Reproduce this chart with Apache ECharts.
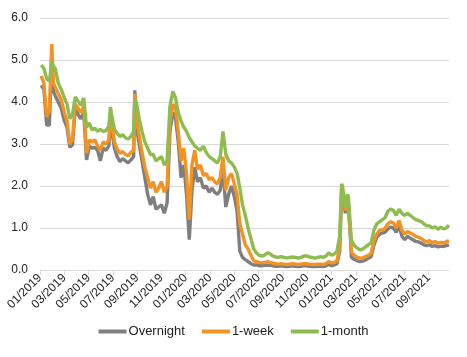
<!DOCTYPE html>
<html>
<head>
<meta charset="utf-8">
<script src="https://cdn.jsdelivr.net/npm/echarts@6/dist/echarts.min.js"></script>
<style>
html,body{margin:0;padding:0;background:#fff;}
#chart{width:467px;height:357px;}
</style>
</head>
<body>
<div id="chart"></div>
<script>
const dates = [
"2019-01-04","2019-01-11","2019-01-18","2019-01-25","2019-01-31","2019-02-04","2019-02-08","2019-02-15","2019-02-22","2019-03-01",
"2019-03-08","2019-03-15","2019-03-22","2019-03-29","2019-04-05","2019-04-12","2019-04-19","2019-04-26","2019-05-03","2019-05-10",
"2019-05-17","2019-05-24","2019-05-31","2019-06-07","2019-06-14","2019-06-21","2019-06-25","2019-06-28","2019-07-05","2019-07-12",
"2019-07-19","2019-07-26","2019-08-02","2019-08-09","2019-08-16","2019-08-23","2019-08-26","2019-08-30","2019-09-06","2019-09-13",
"2019-09-20","2019-09-27","2019-10-04","2019-10-11","2019-10-18","2019-10-25","2019-11-01","2019-11-08","2019-11-15","2019-11-22",
"2019-11-29","2019-12-06","2019-12-13","2019-12-20","2019-12-27","2020-01-03","2020-01-10","2020-01-17","2020-01-24","2020-01-31",
"2020-02-07","2020-02-14","2020-02-21","2020-02-28","2020-03-06","2020-03-13","2020-03-20","2020-03-27","2020-04-03","2020-04-10",
"2020-04-17","2020-04-24","2020-05-01","2020-05-08","2020-05-15","2020-05-22","2020-05-29","2020-06-05","2020-06-12","2020-06-19",
"2020-06-26","2020-07-03","2020-07-10","2020-07-17","2020-07-24","2020-07-31","2020-08-07","2020-08-14","2020-08-21","2020-08-28",
"2020-09-04","2020-09-11","2020-09-18","2020-09-25","2020-10-02","2020-10-09","2020-10-16","2020-10-23","2020-10-30","2020-11-06",
"2020-11-13","2020-11-20","2020-11-27","2020-12-04","2020-12-11","2020-12-18","2020-12-25","2021-01-01","2021-01-08","2021-01-15",
"2021-01-22","2021-01-27","2021-01-29","2021-02-05","2021-02-10","2021-02-12","2021-02-17","2021-02-19","2021-02-26","2021-03-05",
"2021-03-12","2021-03-19","2021-03-26","2021-04-02","2021-04-09","2021-04-16","2021-04-23","2021-04-30","2021-05-07","2021-05-14",
"2021-05-21","2021-05-28","2021-06-04","2021-06-11","2021-06-18","2021-06-25","2021-07-02","2021-07-09","2021-07-16","2021-07-23",
"2021-07-30","2021-08-06","2021-08-13","2021-08-20","2021-08-27","2021-09-03","2021-09-10","2021-09-17","2021-09-24","2021-10-01",
"2021-10-08","2021-10-15","2021-10-22"
];
const overnight = [
4.40,4.30,3.45,3.45,5.10,4.25,4.15,4.00,3.85,3.55,
3.40,2.92,2.98,3.85,3.70,3.60,3.75,2.62,2.95,2.90,
2.92,2.85,2.60,2.90,2.85,2.95,3.55,3.35,2.90,2.70,
2.58,2.65,2.60,2.55,2.62,2.70,4.28,3.40,3.00,2.60,
2.20,1.80,1.55,1.75,1.45,1.50,1.55,1.35,1.60,3.30,
3.75,3.60,3.05,2.20,2.50,1.80,0.72,1.90,2.45,2.10,
2.20,1.95,2.00,1.85,1.95,1.85,1.80,1.90,2.40,1.50,
1.80,2.00,1.75,1.40,0.45,0.30,0.25,0.20,0.15,0.12,
0.12,0.10,0.10,0.11,0.12,0.11,0.10,0.09,0.09,0.10,
0.09,0.08,0.09,0.10,0.09,0.08,0.09,0.10,0.10,0.09,
0.08,0.08,0.09,0.09,0.08,0.10,0.13,0.10,0.12,0.15,
0.45,1.90,1.85,1.35,1.65,1.60,0.70,0.30,0.25,0.22,
0.20,0.21,0.24,0.28,0.32,0.60,0.78,0.85,0.88,0.90,
0.98,1.02,1.00,0.90,1.05,0.80,0.72,0.80,0.76,0.72,
0.68,0.67,0.64,0.60,0.58,0.60,0.56,0.58,0.55,0.57,
0.56,0.58,0.60
];
const week1 = [
4.62,4.45,3.65,3.80,5.38,4.45,4.35,4.20,4.05,3.75,
3.55,3.00,3.10,3.95,3.85,3.75,3.90,2.78,3.10,3.05,
3.10,2.95,2.85,3.05,3.00,3.10,3.70,3.50,3.05,2.88,
2.78,2.82,2.75,2.72,2.80,2.85,4.20,3.60,3.20,2.80,
2.45,2.20,1.95,2.10,1.85,1.95,2.10,1.85,2.00,3.50,
3.95,3.85,3.30,2.60,2.90,2.30,1.20,2.50,2.85,2.40,
2.50,2.25,2.30,2.15,2.20,2.10,2.05,2.20,2.70,1.90,
2.20,2.30,2.05,1.80,1.10,0.85,0.60,0.50,0.35,0.22,
0.20,0.18,0.17,0.18,0.20,0.18,0.16,0.15,0.14,0.15,
0.14,0.13,0.14,0.15,0.14,0.13,0.14,0.15,0.15,0.14,
0.13,0.13,0.14,0.14,0.13,0.15,0.20,0.17,0.18,0.22,
0.55,1.98,1.92,1.42,1.72,1.68,0.80,0.42,0.35,0.30,
0.28,0.29,0.32,0.35,0.40,0.70,0.85,0.95,0.95,1.00,
1.10,1.15,1.12,1.00,1.18,0.95,0.85,0.92,0.88,0.85,
0.80,0.78,0.75,0.70,0.67,0.70,0.65,0.68,0.64,0.66,
0.64,0.67,0.70
];
const month1 = [
4.88,4.80,4.55,4.50,4.95,4.85,4.80,4.45,4.30,4.10,
3.95,3.60,3.70,4.12,4.02,3.92,4.10,3.40,3.50,3.33,
3.38,3.30,3.35,3.30,3.32,3.42,3.88,3.70,3.35,3.25,
3.18,3.22,3.15,3.12,3.18,3.30,4.05,4.00,3.60,3.30,
3.05,2.90,2.75,2.75,2.60,2.65,2.70,2.50,2.60,3.90,
4.25,4.10,3.75,3.55,3.40,3.30,3.15,3.05,2.95,2.90,
2.85,2.95,2.80,2.70,2.65,2.60,2.55,2.70,3.30,2.75,
2.60,2.55,2.45,2.30,1.95,1.55,1.30,1.00,0.75,0.50,
0.40,0.35,0.33,0.36,0.41,0.38,0.33,0.31,0.30,0.32,
0.30,0.29,0.30,0.31,0.30,0.28,0.30,0.33,0.34,0.31,
0.30,0.28,0.30,0.32,0.30,0.33,0.41,0.35,0.38,0.45,
0.80,2.05,2.00,1.50,1.80,1.75,1.00,0.70,0.58,0.52,
0.48,0.50,0.55,0.60,0.65,0.95,1.10,1.15,1.20,1.25,
1.40,1.45,1.42,1.30,1.45,1.35,1.30,1.35,1.30,1.25,
1.20,1.18,1.15,1.10,1.05,1.05,1.00,1.03,0.97,1.02,
0.98,1.00,1.07
];
const seriesNames = ["Overnight","1-week","1-month"];
const yTicks = [0,1,2,3,4,5,6];

// date -> months since 01/2019 (x axis unit)
function monthPos(s){
  const p = s.split('-').map(Number);
  const dim = new Date(p[0], p[1], 0).getDate();
  return (p[0]-2019)*12 + (p[1]-1) + (p[2]-1)/dim;
}
function monthLabel(v){
  const y = 2019 + Math.floor(v/12);
  const m = Math.round(v - (y-2019)*12) + 1;
  return (m<10?'0':'') + m + '/' + y;
}
const xs = dates.map(monthPos);
const tickVals = [];
for (let v = 0; v <= xs[xs.length-1]; v += 2) tickVals.push(v);

const font = "'Liberation Sans', Arial, sans-serif";
const chart = echarts.init(document.getElementById('chart'), null, {renderer:'canvas'});
const colors = ['#7f7f7f','#f39323','#8fbc4f'];
chart.setOption({
  animation:false,
  color: colors,
  grid:{left:40,right:18,top:18,bottom:87,containLabel:false},
  legend:{
    bottom:14, left:'center', itemWidth:28, itemHeight:4, itemGap:17,
    icon:'rect',
    textStyle:{fontFamily:font,fontSize:13,color:'#222',padding:[0,0,0,-3]},
    data: seriesNames.map((n,i)=>({name:n, itemStyle:{color:colors[i]}}))
  },
  xAxis:{
    type:'value', min:0, max:xs[xs.length-1],
    splitLine:{show:false},
    axisLine:{lineStyle:{color:'#d9d9d9',width:1}},
    axisTick:{show:true,length:5,lineStyle:{color:'#d9d9d9'},customValues:tickVals},
    axisLabel:{customValues:tickVals, formatter:monthLabel, rotate:45, fontFamily:font, fontSize:12, color:'#222', margin:6}
  },
  yAxis:{
    type:'value', min:yTicks[0], max:yTicks[yTicks.length-1], interval:1,
    axisLine:{show:false}, axisTick:{show:false},
    splitLine:{lineStyle:{color:'#d9d9d9',width:1}},
    axisLabel:{formatter:v=>v.toFixed(1), fontFamily:font, fontSize:12, color:'#222', margin:12}
  },
  series:[overnight,week1,month1].map((arr,i)=>({
    name:seriesNames[i], type:'line', symbol:'none', smooth:false,
    lineStyle:{width:3.4,color:colors[i]},
    data: arr.map((v,j)=>[xs[j],v])
  }))
});
</script>
</body>
</html>
